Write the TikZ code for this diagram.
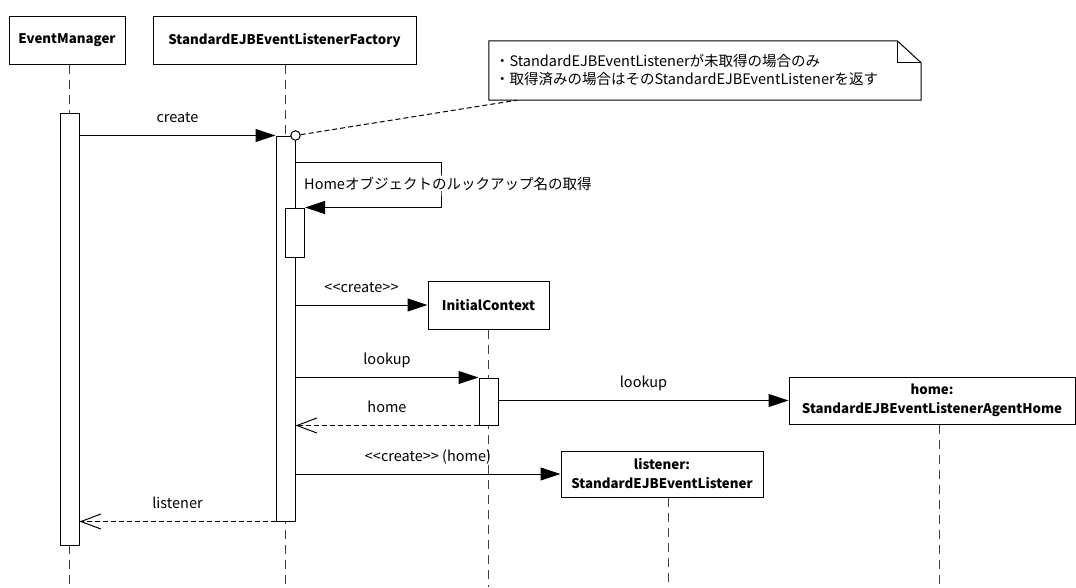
\documentclass[tikz,border=0pt]{standalone}
\usepackage{fontspec}
\setmainfont{Noto Sans CJK JP}
\usepackage{tikz}
\usetikzlibrary{arrows.meta, positioning, calc, backgrounds}
\newcommand{\diafont}{\fontsize{14.5}{18}\selectfont}
\newcommand{\boxfont}{\fontsize{13.3}{19}\selectfont\bfseries}
\tikzstyle{object} = [
  rectangle, draw, fill=white, line width=1pt,
  align=center, font=\boxfont, inner sep=0pt
]
\tikzstyle{activation} = [
  rectangle, draw, fill=white, line width=1pt,
  minimum width=19pt, inner sep=0pt
]
\tikzstyle{lifeline} = [line width=1pt, black!75, dash pattern=on 9pt off 6pt]
\tikzstyle{call} = [-{Triangle[length=20pt,width=13pt]}, line width=1pt]
\tikzstyle{reply} = [-{Straight Barb[length=20pt,width=15pt]}, line width=1pt, dash pattern=on 5pt off 3pt]
\tikzstyle{msg} = [font=\diafont, inner sep=1pt, anchor=base]
\tikzstyle{notebox} = [
  rectangle, font=\diafont, align=left,
  text width=420pt, inner xsep=6pt, inner ysep=0pt, minimum height=59pt
]

\begin{document}
\begin{tikzpicture}[x=1pt, y=-1pt]
  \useasboundingbox (0,0) rectangle (1076,587);
  \coordinate (bottom) at (0,587);

  % Objects
  \node[object, minimum width=116pt, minimum height=48pt] (em) at (67,40) {EventManager};
  \node[object, minimum width=263pt, minimum height=48pt] (factory) at (284.5,40) {StandardEJBEventListenerFactory};
  \node[object, minimum width=121pt, minimum height=48pt] (ic) at (488.5,305) {InitialContext};
  \node[object, minimum width=286pt, minimum height=47pt] (home) at (932,400.5) {home:\\StandardEJBEventListenerAgentHome};
  \node[object, minimum width=202pt, minimum height=46pt] (listener) at (662,474) {listener:\\StandardEJBEventListener};

  % Activations
  \node[activation, minimum height=432pt] (emAct) at (69.5,329) {};
  \node[activation, minimum height=385pt] (fAct) at (285.5,328.5) {};
  \node[activation, minimum height=49pt] (sAct) at (295,232.5) {};
  \node[activation, minimum height=47pt] (icAct) at (488.5,401.5) {};

  % Lifelines
  \begin{scope}[on background layer]
    \draw[lifeline] ([xshift=2pt]em.south) -- ([xshift=2pt]em.south |- bottom);
    \draw[lifeline] ([xshift=0.5pt]factory.south) -- ([xshift=0.5pt]factory.south |- bottom);
    \draw[lifeline] (ic.south) -- (ic.south |- bottom);
    \draw[lifeline] ([xshift=6pt]listener.south) -- ([xshift=6pt]listener.south |- bottom);
    \draw[lifeline] ([xshift=7pt]home.south) -- ([xshift=7pt]home.south |- bottom);
  \end{scope}

  % Note
  \node[notebox] (note) at (705,70.5) {・StandardEJBEventListenerが未取得の場合のみ\\・取得済みの場合はそのStandardEJBEventListenerを返す};
  \draw[line width=1pt] (note.north west) -- ([xshift=-24pt]note.north east)
    -- ([yshift=-22pt]note.north east) -- (note.south east) -- (note.south west) -- cycle;
  \draw[line width=1pt] ([xshift=-24pt]note.north east) |- ([yshift=-22pt]note.north east);

  % Messages
  \draw[call] (emAct.east |- fAct.north) -- node[msg, yshift=13pt] {create} (fAct.north west);
  \node[circle, draw, fill=white, line width=1pt, minimum size=9.5pt, inner sep=0pt] (hook) at (fAct.north east) {};
  \draw[line width=1pt, dash pattern=on 5pt off 3pt] (hook) -- ([xshift=28pt]note.south west);

  \coordinate (loopR) at (441,185);
  \draw[call] (fAct.east |- 0,162) -| (loopR) |- (sAct.north east);
  \node[msg, anchor=base west, fill=white] (selfLabel) at (303,189) {Homeオブジェクトのルックアップ名の取得};

  \draw[call] (fAct.east |- ic.west) -- node[msg, yshift=13pt] {<{}<create>{}>} (ic.west);
  \draw[call] (fAct.east |- icAct.north west) -- node[msg, yshift=13pt] {lookup} (icAct.north west);
  \draw[reply] (icAct.south west) -- node[msg, yshift=13pt] {home} (fAct.east |- icAct.south west);
  \draw[call] (icAct.east |- home.west) -- node[msg, yshift=13pt] {lookup} (home.west);
  \draw[call] (fAct.east |- listener.west) -- node[msg, yshift=13pt] {<{}<create>{}> (home)} (listener.west);
  \draw[reply] (fAct.south west) -- node[msg, yshift=13pt] {listener} (emAct.east |- fAct.south west);

\end{tikzpicture}
\end{document}
